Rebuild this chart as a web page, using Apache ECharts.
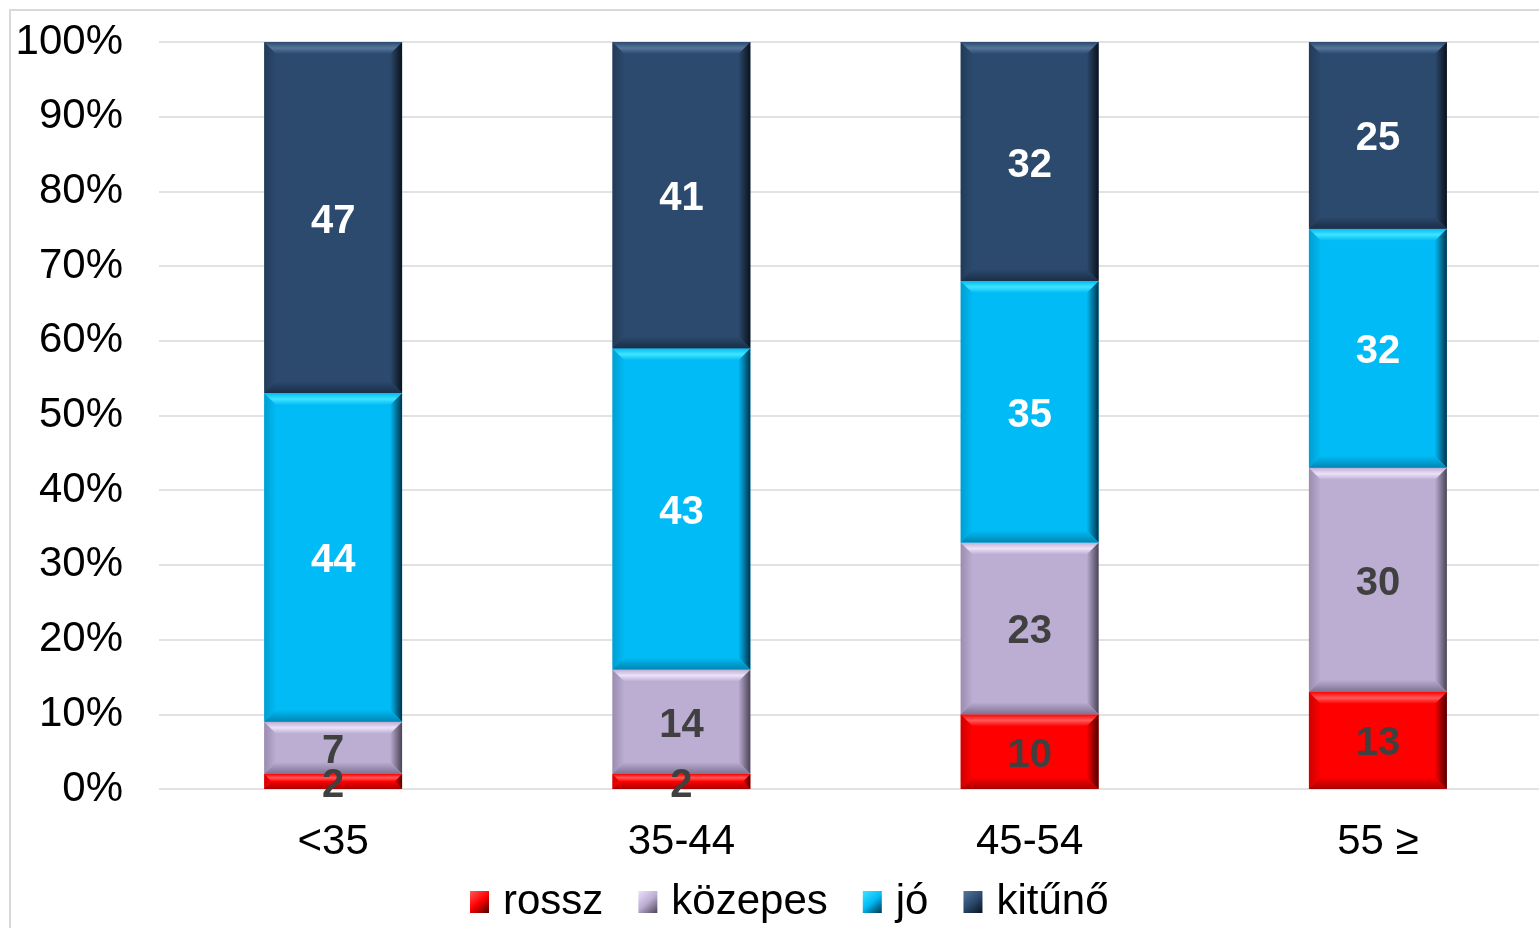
<!DOCTYPE html>
<html>
<head>
<meta charset="utf-8">
<style>
  html, body { margin: 0; padding: 0; background: #fff; overflow: hidden; }
  /* plot area runs slightly past the right edge of the window */
  #chart { width: 1552px; height: 928px; }
</style>
<script src="https://cdn.jsdelivr.net/npm/echarts@6/dist/echarts.min.js"></script>
</head>
<body>
<div id="chart"></div>
<script>
// Age groups and the share (%) of each rating within them
const categories = ['<35', '35-44', '45-54', '55 ≥'];
const rossz   = [2, 2, 10, 13];
const kozepes = [7, 14, 23, 30];
const jo      = [44, 43, 35, 32];
const kitunu  = [47, 41, 32, 25];

const seriesNames = ['rossz', 'közepes', 'jó', 'kitűnő'];
const seriesValues = [rossz, kozepes, jo, kitunu];

// Bevel palette per rating: face, top highlight, bottom shade, right shade
const palette = [
  { base: '#ff0000', top: '#ff5a5a', bottom: '#a80000', right: '#4a0000', label: '#404040' },
  { base: '#bcadd3', top: '#ece2fa', bottom: '#7d7290', right: '#4a4455', label: '#404040' },
  { base: '#00bbf5', top: '#3fe4ff', bottom: '#0086b3', right: '#00324a', label: '#ffffff' },
  { base: '#2c4a6e', top: '#56769c', bottom: '#1a2e47', right: '#0a121c', label: '#ffffff' }
];

const BEVEL = 12;
const BAR_RATIO = 0.396;

function bevelBar(pal) {
  return function (params, api) {
    const i = api.value(0);
    const lo = api.value(1);
    const hi = api.value(2);
    const val = api.value(3);
    const pTop = api.coord([i, hi]);
    const pBot = api.coord([i, lo]);
    const w = api.size([1, 0])[0] * BAR_RATIO;
    const x0 = pTop[0] - w / 2, x1 = pTop[0] + w / 2;
    const y0 = pTop[1], y1 = pBot[1];
    const h = y1 - y0;
    const b = Math.min(BEVEL, h / 2, w / 2);
    const children = [
      { type: 'rect', shape: { x: x0, y: y0, width: w, height: h }, style: { fill: pal.base } },
      { type: 'polygon', shape: { points: [[x0, y0], [x0 + b, y0 + b], [x0 + b, y1 - b], [x0, y1]] },
        style: { fill: new echarts.graphic.LinearGradient(0, 0, 1, 0, [
          { offset: 0, color: pal.bottom }, { offset: 1, color: pal.base }]), opacity: 0.55 } },
      { type: 'polygon', shape: { points: [[x1, y0], [x1 - b, y0 + b], [x1 - b, y1 - b], [x1, y1]] },
        style: { fill: new echarts.graphic.LinearGradient(0, 0, 1, 0, [
          { offset: 0, color: pal.base }, { offset: 1, color: pal.right }]) } },
      { type: 'polygon', shape: { points: [[x0, y0], [x1, y0], [x1 - b, y0 + b], [x0 + b, y0 + b]] },
        style: { fill: new echarts.graphic.LinearGradient(0, 0, 0, 1, [
          { offset: 0, color: pal.base }, { offset: 0.5, color: pal.top }, { offset: 1, color: pal.base }]) } },
      { type: 'polygon', shape: { points: [[x0, y1], [x1, y1], [x1 - b, y1 - b], [x0 + b, y1 - b]] },
        style: { fill: new echarts.graphic.LinearGradient(0, 0, 0, 1, [
          { offset: 0, color: pal.base }, { offset: 1, color: pal.bottom }]) } },
      { type: 'text', z2: 100,
        style: { text: String(val), x: pTop[0], y: (y0 + y1) / 2 + 4, align: 'center', verticalAlign: 'middle',
          fill: pal.label, font: 'bold 40px "Liberation Sans", Arial, sans-serif' } }
    ];
    return { type: 'group', children: children };
  };
}

// Cumulative stacking: each segment is [category, bottom, top, value]
const cumulative = categories.map(() => 0);
const series = seriesNames.map((name, s) => {
  const pal = palette[s];
  const data = seriesValues[s].map((v, i) => {
    const lo = cumulative[i];
    cumulative[i] += v;
    return [i, lo, cumulative[i], v];
  });
  return {
    name: name,
    type: 'custom',
    renderItem: bevelBar(pal),
    itemStyle: {
      color: new echarts.graphic.LinearGradient(0, 0, 1, 1, [
        { offset: 0, color: pal.top }, { offset: 0.5, color: pal.base }, { offset: 1, color: pal.right }])
    },
    encode: { x: 0, y: [1, 2] },
    data: data
  };
});

const chart = echarts.init(document.getElementById('chart'), null, { renderer: 'canvas' });
chart.setOption({
  animation: false,
  backgroundColor: '#ffffff',
  textStyle: { fontFamily: '"Liberation Sans", Arial, sans-serif' },
  graphic: [{
    type: 'rect', z: -1, silent: true,
    shape: { x: 10, y: 10, width: 1600, height: 1000 },
    style: { fill: 'none', stroke: '#d9d9d9', lineWidth: 2 }
  }],
  grid: { left: 159, top: 42, right: 0, bottom: 139, containLabel: false },
  legend: {
    data: seriesNames,
    left: 465, top: 876,
    icon: 'rect', itemWidth: 19, itemHeight: 22, itemGap: 35,
    textStyle: { fontSize: 42, color: '#000', padding: [0, 0, 0, 9] }
  },
  xAxis: {
    type: 'category',
    data: categories,
    axisLine: { show: false },
    axisTick: { show: false },
    axisLabel: { fontSize: 42, color: '#000', margin: 32 }
  },
  yAxis: {
    type: 'value',
    min: 0, max: 100, interval: 10,
    axisLine: { show: false },
    axisTick: { show: false },
    splitLine: { lineStyle: { color: '#d9d9d9', width: 1.5 } },
    axisLabel: { fontSize: 42, color: '#000', margin: 36, formatter: '{value}%' }
  },
  series: series
});
</script>
</body>
</html>
